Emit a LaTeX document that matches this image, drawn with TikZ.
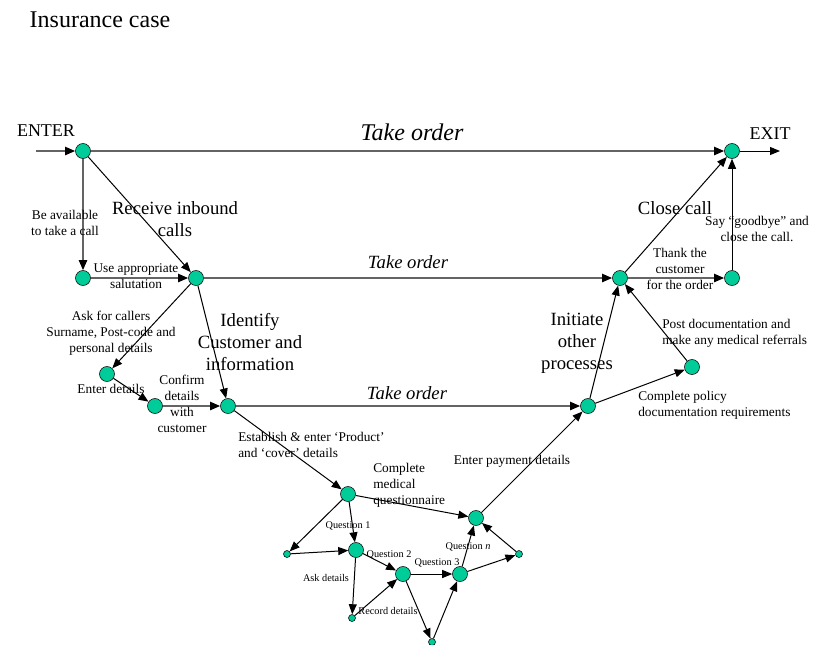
\documentclass[tikz,border=0pt]{standalone}
\usepackage{fontspec}
\setmainfont{Liberation Serif}
\usetikzlibrary{arrows.meta}
\definecolor{stategreen}{RGB}{0,204,153}
\definecolor{mainline}{RGB}{100,100,100}
\newcommand{\bignode}{11.25pt}
\newcommand{\tinynode}{5.25pt}

\begin{document}
\begin{tikzpicture}[x=0.75pt,y=-0.75pt,
    lbl/.style={align=center,inner sep=0pt,font=\fontsize{10}{12}\selectfont},
    biglbl/.style={align=center,inner sep=0pt,font=\fontsize{14}{16.5}\selectfont},
    qlbl/.style={align=center,inner sep=0pt,font=\fontsize{7.7}{9}\selectfont}]
            \useasboundingbox (0,0) rectangle (813,644);

            \node[inner sep=0pt,font=\fontsize{18}{21}\selectfont] (title) at (100,20) {Insurance case};
            \node[inner sep=0pt,font=\fontsize{13.5}{16}\selectfont] (entertxt) at (46,131) {ENTER};
            \node[inner sep=0pt,font=\fontsize{13.5}{16}\selectfont] (exittxt) at (770,134) {EXIT};

            \begin{scope}[every node/.style={circle,draw,fill=stategreen,minimum size=\bignode,inner sep=0pt}]
                \node (enter) at (83,151) {};
                \node (exit) at (732,151) {};
                \node (avail) at (83,278) {};
                \node (recv) at (196,278) {};
                \node (enterdet) at (107,374) {};
                \node (confirm) at (155,406) {};
                \node (ident) at (228,406) {};
                \node (init) at (588,406) {};
                \node (post) at (692,367) {};
                \node (close) at (620,278) {};
                \node (thank) at (732,278) {};
                \node (medq) at (348,494) {};
                \node (pay) at (476,518) {};
                \node (q1) at (356,550) {};
                \node (q2) at (403,574) {};
                \node (q3) at (460,574) {};
            \end{scope}
            \begin{scope}[every node/.style={circle,draw,fill=stategreen,minimum size=\tinynode,inner sep=0pt}]
                \node (askq) at (287,554) {};
                \node (record) at (352,618) {};
                \node (qlow) at (432,642) {};
                \node (qn) at (519,554) {};
            \end{scope}
            \coordinate (in) at (36,151);
            \coordinate (out) at (780,151);

            % main lines
            \begin{scope}[>={Triangle[length=7.5pt,width=6pt,black]},
                every edge/.style={draw=mainline,line width=1.5pt}]
                \path [->] (in) edge node {} (enter);
                \path [->] (enter) edge node {} (exit);
                \path [->] (enter) edge node {} (avail);
                \path [->] (avail) edge node {} (recv);
                \path [->] (recv) edge node {} (close);
                \path [->] (confirm) edge node {} (ident);
                \path [->] (ident) edge node {} (init);
                \path [->] (close) edge node {} (thank);
            \end{scope}

            \begin{scope}[>={Triangle[length=7.5pt,width=6pt,black]},
                every edge/.style={draw=black,line width=0.75pt}]
                \path [->] (exit) edge node {} (out);
                \path [->] (enter) edge node {} (recv);
                \path [->] (recv) edge node {} (enterdet);
                \path [->] (recv) edge node {} (ident);
                \path [->] (enterdet) edge node {} (confirm);
                \path [->] (ident) edge node {} (medq);
                \path [->] (medq) edge node {} (pay);
                \path [->] (pay) edge node {} (init);
                \path [->] (init) edge node {} (close);
                \path [->] (init) edge node {} (post);
                \path [->] (post) edge node {} (close);
                \path [->] (close) edge node {} (exit);
                \path [->] (thank) edge node {} (exit);
                % questionnaire
                \path [->] (medq) edge node {} (askq);
                \path [->] (medq) edge node {} (q1);
                \path [->] (askq) edge node {} (q1);
                \path [->] (q1) edge node {} (q2);
                \path [->] (q1) edge node {} (record);
                \path [->] (record) edge node {} (q2);
                \path [->] (q2) edge node {} (q3);
                \path [->] (q2) edge node {} (qlow);
                \path [->] (qlow) edge node {} (q3);
                \path [->] (q3) edge node {} (pay);
                \path [->] (q3) edge node {} (qn);
                \path [->] (qn) edge node {} (pay);
            \end{scope}

            % labels
            \node[inner sep=0pt,font=\fontsize{18}{21}\selectfont\itshape] (take1) at (412,132) {Take order};
            \node[inner sep=0pt,font=\fontsize{14}{16}\selectfont\itshape] (take2) at (408,262) {Take order};
            \node[inner sep=0pt,font=\fontsize{14}{16}\selectfont\itshape] (take3) at (407,393) {Take order};
            \node[lbl] (availtxt) at (65,223) {Be available\\to take a call};
            \node[biglbl] (recvtxt) at (175,219) {Receive inbound\\calls};
            \node[lbl] (salut) at (136,276) {Use appropriate\\salutation};
            \node[lbl] (asktxt) at (111,333) {Ask for callers\\Surname, Post-code and\\personal details};
            \node[lbl] (enterdettxt) at (111,389) {Enter details};
            \node[lbl] (confirmtxt) at (182,404) {Confirm\\details\\with\\customer};
            \node[biglbl] (identtxt) at (250,342) {Identify\\Customer and\\information};
            \node[lbl,align=left,anchor=west] (prodtxt) at (238,445) {Establish \& enter ‘Product’\\and ‘cover’ details};
            \node[lbl,align=left,anchor=west] (medtxt) at (373,485) {Complete\\medical\\questionnaire};
            \node[lbl] (paytxt) at (512,461) {Enter payment details};
            \node[biglbl] (inittxt) at (577,343) {Initiate\\other\\processes};
            \node[lbl,align=left,anchor=west] (policytxt) at (638,405) {Complete policy\\documentation requirements};
            \node[lbl,align=left,anchor=west] (posttxt) at (662,333) {Post documentation and\\make any medical referrals};
            \node[lbl] (thanktxt) at (680,269) {Thank the\\customer\\for the order};
            \node[biglbl] (closetxt) at (675,208) {Close call};
            \node[lbl] (byetxt) at (757,229) {Say “goodbye” and\\close the call.};
            \node[qlbl] (q1txt) at (348,526) {Question 1};
            \node[qlbl] (q2txt) at (389,555) {Question 2};
            \node[qlbl] (q3txt) at (437,563) {Question 3};
            \node[qlbl] (qntxt) at (468,547) {Question \textit{n}};
            \node[qlbl] (asktxt2) at (326,578) {Ask details};
            \node[qlbl] (rectxt) at (388,611) {Record details};
\end{tikzpicture}
\end{document}
